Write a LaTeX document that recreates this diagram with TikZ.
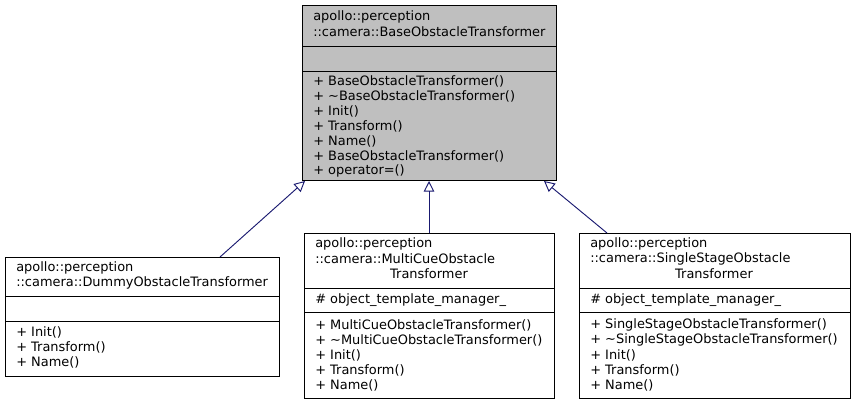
\documentclass[tikz,border=0pt]{standalone}
\usepackage{fontspec}
\setmainfont{DejaVu Sans}
\usetikzlibrary{fit,arrows.meta}
\begin{document}
\begin{tikzpicture}[x=0.75pt,y=-0.75pt,
  box/.style={draw=black,inner sep=0pt,line width=0.7pt},
  t/.style={anchor=west,inner sep=0pt,font=\fontsize{9.7pt}{11pt}\selectfont},
  c/.style={anchor=center,inner sep=0pt,font=\fontsize{9.7pt}{11pt}\selectfont},
  inh/.style={draw={rgb,255:red,25;green,25;blue,112},line width=0.7pt,-{Triangle[open,length=8pt,width=8pt]}}]
\useasboundingbox (0,0) rectangle (855,404);
% top
\fill[gray!50] (302,5) rectangle (556,180);
\coordinate (ta) at (302,5); \coordinate (tb) at (556,180);
\node[box,fit=(ta)(tb)] (top) {};
\draw (302,46) -- (556,46); \draw (302,71) -- (556,71);
\node[t] at (313,17) {apollo::perception};
\node[t] at (313,32) {::camera::BaseObstacleTransformer};
\foreach \s [count=\i from 0] in {+ BaseObstacleTransformer(),+ \textasciitilde BaseObstacleTransformer(),+ Init(),+ Transform(),+ Name(),+ BaseObstacleTransformer(),+ operator=()}
  \node[t] at (313,81+15*\i) {\s};
% left
\coordinate (la) at (5,257); \coordinate (lb) at (279,376);
\node[box,fit=(la)(lb)] (left) {};
\draw (5,296) -- (279,296); \draw (5,321) -- (279,321);
\node[t] at (16,268) {apollo::perception};
\node[t] at (16,283) {::camera::DummyObstacleTransformer};
\foreach \s [count=\i from 0] in {+ Init(),+ Transform(),+ Name()}
  \node[t] at (16,332+15*\i) {\s};
% middle
\coordinate (ma) at (304,233); \coordinate (mb) at (554,398);
\node[box,fit=(ma)(mb)] (mid) {};
\draw (304,288) -- (554,288); \draw (304,312) -- (554,312);
\node[t] at (315,244) {apollo::perception};
\node[t] at (315,259) {::camera::MultiCueObstacle};
\node[c] at (429,274) {Transformer};
\node[t] at (315,300) {\# object\_template\_manager\_};
\foreach \s [count=\i from 0] in {+ MultiCueObstacleTransformer(),+ \textasciitilde MultiCueObstacleTransformer(),+ Init(),+ Transform(),+ Name()}
  \node[t] at (315,325+15*\i) {\s};
% right
\coordinate (ra) at (579,233); \coordinate (rb) at (850,398);
\node[box,fit=(ra)(rb)] (right) {};
\draw (579,288) -- (850,288); \draw (579,312) -- (850,312);
\node[t] at (590,244) {apollo::perception};
\node[t] at (590,259) {::camera::SingleStageObstacle};
\node[c] at (714,274) {Transformer};
\node[t] at (590,300) {\# object\_template\_manager\_};
\foreach \s [count=\i from 0] in {+ SingleStageObstacleTransformer(),+ \textasciitilde SingleStageObstacleTransformer(),+ Init(),+ Transform(),+ Name()}
  \node[t] at (590,325+15*\i) {\s};
% arrows
\coordinate (l1) at (220,257); \coordinate (t1) at (305,181);
\coordinate (m1) at (429,233); \coordinate (t2) at (429,181);
\coordinate (r1) at (607,233); \coordinate (t3) at (544,181);
\draw[inh] (l1) -- (t1);
\draw[inh] (m1) -- (t2);
\draw[inh] (r1) -- (t3);
\end{tikzpicture}
\end{document}
